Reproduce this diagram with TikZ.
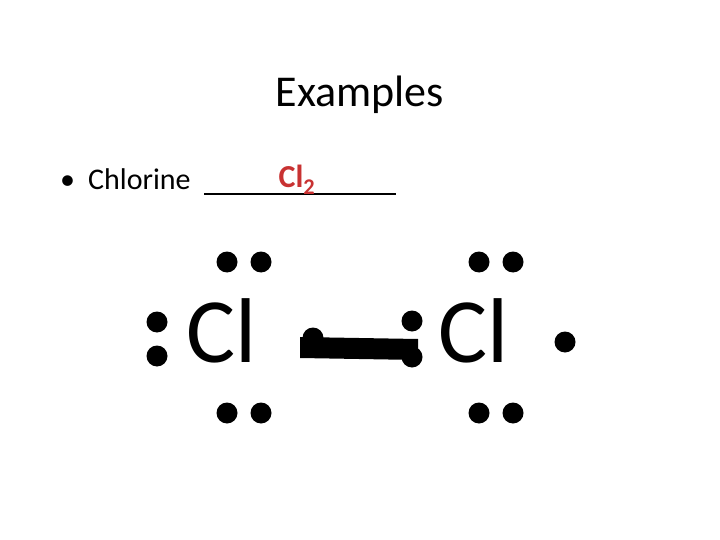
\documentclass[tikz,border=0pt]{standalone}
\usepackage{fontspec}
\setmainfont{Carlito}
\begin{document}
\begin{tikzpicture}[x=1pt,y=-1pt,
  dot/.style={circle,fill=black,inner sep=0pt,minimum size=21pt},
  atom/.style={inner sep=0pt,font=\fontsize{92}{92}\selectfont}]
\useasboundingbox (0,0) rectangle (720,540);
\node (title) at (360,95) {\fontsize{44}{48}\selectfont Examples};
\node[anchor=base west,inner sep=0pt] (bul) at (60,190) {\fontsize{30}{34}\selectfont \textbullet};
\node[anchor=base west,inner sep=0pt] (chl) at (88,190) {\fontsize{30}{34}\selectfont Chlorine};
\coordinate (u1) at (204,194);
\coordinate (u2) at (396,194);
\draw[line width=1.3pt] (u1) -- (u2);
\node[anchor=base,inner sep=0pt,text={rgb,255:red,200;green,50;blue,50}] (cl2) at (297,188) {\fontsize{32}{36}\selectfont\bfseries Cl$_{\mathbf 2}$};
\node[atom,anchor=base] (A) at (222,362) {Cl};
\node[atom,anchor=base] (B) at (474,362) {Cl};
\foreach \n/\x/\y in {a1/227/262,a2/261/262,a3/227/413,a4/261/413,a5/157/322,a6/157/356,
 b1/479/262,b2/513/262,b3/479/413,b4/513/413,b5/412/321,b6/412/357,b7/565/342,c1/313/338}
 \node[dot] (\n) at (\x,\y) {};
\fill (300,337) -- (418,339) -- (418,360) -- (300,358) -- cycle;
\end{tikzpicture}
\end{document}
